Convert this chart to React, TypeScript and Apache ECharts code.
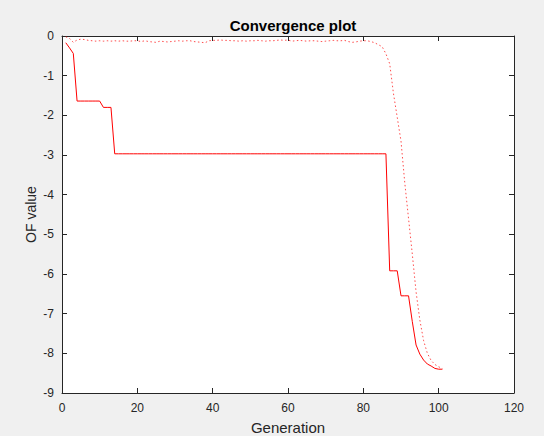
import React, { useEffect, useRef } from "react";
import * as echarts from "echarts";

const generation = [
  1, 2, 3, 4, 5, 6, 7, 8, 9, 10, 11, 12, 13, 14, 15, 16, 17, 18, 19, 20,
  21, 22, 23, 24, 25, 26, 27, 28, 29, 30, 31, 32, 33, 34, 35, 36, 37, 38, 39, 40,
  41, 42, 43, 44, 45, 46, 47, 48, 49, 50, 51, 52, 53, 54, 55, 56, 57, 58, 59, 60,
  61, 62, 63, 64, 65, 66, 67, 68, 69, 70, 71, 72, 73, 74, 75, 76, 77, 78, 79, 80,
  81, 82, 83, 84, 85, 86, 87, 88, 89, 90, 91, 92, 93, 94, 95, 96, 97, 98, 99, 100,
  101,
];

const bestValue = [
  -0.17, -0.3, -0.44, -1.64, -1.64, -1.64, -1.64, -1.64, -1.64, -1.64,
  -1.8, -1.8, -1.8, -2.97, -2.97, -2.97, -2.97, -2.97, -2.97, -2.97,
  -2.97, -2.97, -2.97, -2.97, -2.97, -2.97, -2.97, -2.97, -2.97, -2.97,
  -2.97, -2.97, -2.97, -2.97, -2.97, -2.97, -2.97, -2.97, -2.97, -2.97,
  -2.97, -2.97, -2.97, -2.97, -2.97, -2.97, -2.97, -2.97, -2.97, -2.97,
  -2.97, -2.97, -2.97, -2.97, -2.97, -2.97, -2.97, -2.97, -2.97, -2.97,
  -2.97, -2.97, -2.97, -2.97, -2.97, -2.97, -2.97, -2.97, -2.97, -2.97,
  -2.97, -2.97, -2.97, -2.97, -2.97, -2.97, -2.97, -2.97, -2.97, -2.97,
  -2.97, -2.97, -2.97, -2.97, -2.97, -2.97, -5.92, -5.92, -5.92, -6.55,
  -6.55, -6.55, -7.2, -7.79, -8.02, -8.17, -8.27, -8.32, -8.38, -8.4,
  -8.4,
];

const meanValue = [
  -0.02, -0.06, -0.16, -0.1, -0.08, -0.09, -0.11, -0.12, -0.13, -0.12,
  -0.13, -0.12, -0.13, -0.12, -0.13, -0.12, -0.13, -0.13, -0.12, -0.12,
  -0.14, -0.12, -0.14, -0.15, -0.16, -0.13, -0.14, -0.15, -0.14, -0.13,
  -0.12, -0.13, -0.12, -0.12, -0.14, -0.15, -0.16, -0.17, -0.12, -0.11,
  -0.11, -0.1, -0.11, -0.11, -0.12, -0.12, -0.13, -0.12, -0.13, -0.12,
  -0.12, -0.11, -0.12, -0.13, -0.12, -0.12, -0.11, -0.1, -0.11, -0.1,
  -0.13, -0.12, -0.11, -0.12, -0.13, -0.12, -0.12, -0.13, -0.14, -0.13,
  -0.12, -0.11, -0.12, -0.12, -0.11, -0.14, -0.16, -0.15, -0.13, -0.12,
  -0.12, -0.14, -0.17, -0.22, -0.27, -0.45, -0.7, -1.45, -2.05, -2.65,
  -3.7, -4.6, -5.5, -6.45, -7.16, -7.68, -8.0, -8.18, -8.28, -8.34,
  -8.38,
];

const xTicks = { min: 0, max: 120, interval: 20 };
const yTicks = { min: -9, max: 0, interval: 1 };

const titleText = "Convergence plot";
const xName = "Generation";
const yName = "OF value";

export default function App() {
  const ref = useRef<HTMLDivElement>(null);

  useEffect(() => {
    document.body.style.margin = "0";
    if (!ref.current) return;
    const chart = echarts.init(ref.current, null, { renderer: "svg" });
    const axisColor = "#262626";
    const font = "Liberation Sans, Arial, Helvetica, sans-serif";
    const bestData = generation.map((g, i) => [g, bestValue[i]]);
    const meanData = generation.map((g, i) => [g, meanValue[i]]);
    const lineCommon = {
      show: true,
      onZero: false,
      lineStyle: { color: axisColor, width: 1 },
    };
    const tickCommon = { show: true, inside: true, length: 5, lineStyle: { color: axisColor } };
    chart.setOption({
      animation: false,
      backgroundColor: "#f0f0f0",
      title: {
        text: titleText,
        left: 288,
        top: 13,
        textAlign: "center",
        textStyle: {
          fontFamily: font,
          fontSize: 15,
          fontWeight: "bold",
          color: "#000",
        },
      },
      grid: {
        left: 62,
        top: 36,
        width: 452,
        height: 357,
        show: true,
        backgroundColor: "#ffffff",
        borderWidth: 0,
        containLabel: false,
        outerBoundsMode: "none",
      },
      xAxis: [
        {
          type: "value",
          position: "bottom",
          ...xTicks,
          axisLine: lineCommon,
          axisTick: tickCommon,
          axisLabel: { color: axisColor, fontSize: 12, fontFamily: font, margin: 9 },
          splitLine: { show: false },
          name: xName,
          nameLocation: "middle",
          nameGap: 27,
          nameMoveOverlap: false,
          nameTextStyle: { color: axisColor, fontSize: 15, fontFamily: font },
        },
        {
          type: "value",
          position: "top",
          ...xTicks,
          axisLine: lineCommon,
          axisTick: tickCommon,
          axisLabel: { show: false },
          splitLine: { show: false },
        },
      ],
      yAxis: [
        {
          type: "value",
          position: "left",
          ...yTicks,
          axisLine: lineCommon,
          axisTick: tickCommon,
          axisLabel: { color: axisColor, fontSize: 12, fontFamily: font, margin: 8 },
          splitLine: { show: false },
          name: yName,
          nameLocation: "middle",
          nameGap: 24,
          nameRotate: 90,
          nameMoveOverlap: false,
          nameTextStyle: { color: axisColor, fontSize: 14, fontFamily: font },
        },
        {
          type: "value",
          position: "right",
          ...yTicks,
          axisLine: lineCommon,
          axisTick: tickCommon,
          axisLabel: { show: false },
          splitLine: { show: false },
        },
      ],
      series: [
        {
          type: "line",
          data: meanData,
          xAxisIndex: 0,
          yAxisIndex: 0,
          showSymbol: false,
          symbol: "none",
          lineStyle: { color: "#ff0000", width: 1, type: [1.5, 2.5], opacity: 0.7 },
          z: 2,
        },
        {
          type: "line",
          data: bestData,
          xAxisIndex: 0,
          yAxisIndex: 0,
          showSymbol: false,
          symbol: "none",
          lineStyle: { color: "#ff0000", width: 1 },
          z: 3,
        },
      ],
    });
    return () => chart.dispose();
  }, []);

  return <div ref={ref} style={{ width: 544, height: 436 }} />;
}
